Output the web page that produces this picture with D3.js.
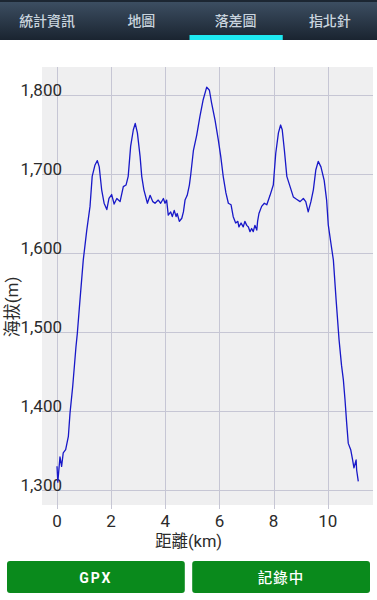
<!DOCTYPE html>
<html lang="zh-Hant">
<head>
<meta charset="UTF-8">
<title>落差圖</title>
<script src="https://d3js.org/d3.v7.min.js"></script>
<style>
  html, body { margin: 0; padding: 0; background: #fff; }
  body { width: 377px; height: 600px; overflow: hidden; font-family: Roboto, "Noto Sans CJK TC", sans-serif; }
</style>
</head>
<body>
<div id="chart"></div>
<script>
// tabs and buttons
const tabs = ["統計資訊", "地圖", "落差圖", "指北針"];
const activeTab = 2;
const buttons = ["GPX", "記錄中"];

// elevation profile
const distanceKm = [0.00, 0.03, 0.11, 0.17, 0.23, 0.32, 0.42, 0.48, 0.58, 0.70, 0.75, 0.85, 0.91, 0.97,
  1.10, 1.22, 1.30, 1.40, 1.49, 1.56, 1.65, 1.74, 1.84, 1.92, 2.02, 2.11, 2.21, 2.33, 2.45, 2.55, 2.63,
  2.72, 2.82, 2.89, 2.97, 3.07, 3.13, 3.21,
  3.34, 3.44, 3.54, 3.62, 3.74, 3.83, 3.93, 3.99, 4.05, 4.11, 4.20, 4.26, 4.33, 4.40, 4.44, 4.52, 4.61,
  4.67, 4.73, 4.81, 4.89,
  4.94, 5.04, 5.16, 5.28, 5.40, 5.53, 5.63, 5.71, 5.84, 5.96, 6.05, 6.14, 6.24,
  6.33, 6.43, 6.51, 6.60, 6.68, 6.72, 6.80, 6.88, 6.94, 7.01, 7.07, 7.13, 7.19, 7.25, 7.31, 7.38, 7.41,
  7.46, 7.56, 7.66, 7.75, 7.81, 7.87,
  7.99, 8.08, 8.18, 8.26, 8.32, 8.40, 8.49, 8.61, 8.73, 8.85, 8.98, 9.10, 9.19, 9.28, 9.38, 9.47, 9.56,
  9.65, 9.75, 9.87, 9.96, 10.02, 10.12, 10.21, 10.31, 10.42, 10.51, 10.58, 10.64, 10.70, 10.76, 10.85,
  10.92, 10.97, 11.05, 11.07, 11.13];
const elevationM = [1330, 1310, 1342, 1330, 1347, 1351, 1368, 1397, 1431, 1481, 1498, 1541, 1566, 1591,
  1629, 1659, 1697, 1711, 1717, 1709, 1680, 1663, 1655, 1669, 1674, 1662, 1669, 1665, 1684, 1686, 1697,
  1735, 1756, 1764, 1752, 1722, 1697, 1680,
  1663, 1673, 1665, 1663, 1667, 1663, 1669, 1663, 1667, 1648, 1652, 1646, 1654, 1646, 1650, 1640, 1644,
  1652, 1667, 1673, 1686,
  1699, 1730, 1749, 1773, 1794, 1810, 1806, 1790, 1768, 1743, 1722, 1697, 1676,
  1663, 1661, 1646, 1638, 1640, 1633, 1638, 1633, 1640, 1635, 1633, 1627, 1631, 1627, 1635, 1629, 1640,
  1650, 1659, 1663, 1661, 1667, 1673,
  1686, 1726, 1752, 1762, 1756, 1730, 1697, 1684, 1671, 1668, 1665, 1669, 1665, 1652, 1665, 1680, 1705,
  1716, 1709, 1692, 1667, 1636, 1612, 1591, 1541, 1490, 1458, 1439, 1414, 1385, 1359, 1351,
  1338, 1328, 1338, 1325, 1311];

const xTicks = [0, 2, 4, 6, 8, 10];
const yTicks = [1300, 1400, 1500, 1600, 1700, 1800];

const width = 377, height = 600;
const plot = { left: 42, right: 373, top: 67, bottom: 505 };

const svg = d3.select("#chart").append("svg")
  .attr("width", width)
  .attr("height", height)
  .attr("viewBox", [0, 0, width, height]);

// tab bar
const defs = svg.append("defs");
const grad = defs.append("linearGradient")
  .attr("id", "tabbar").attr("x1", 0).attr("y1", 0).attr("x2", 0).attr("y2", 1);
grad.append("stop").attr("offset", "0%").attr("stop-color", "#3e5064");
grad.append("stop").attr("offset", "100%").attr("stop-color", "#1a2430");

svg.append("rect").attr("x", 0).attr("y", 0).attr("width", width).attr("height", 40)
  .attr("fill", "url(#tabbar)");
svg.append("rect").attr("x", 0).attr("y", 0).attr("width", width).attr("height", 2)
  .attr("fill", "#1c2632");

const tabX = d3.scaleBand().domain(tabs).range([0, width]);
svg.append("rect")
  .attr("x", tabX(tabs[activeTab]) + 1)
  .attr("y", 35)
  .attr("width", tabX.bandwidth() - 1)
  .attr("height", 5)
  .attr("fill", "#1ee8f0");
svg.append("g")
  .selectAll("text")
  .data(tabs)
  .join("text")
  .attr("x", d => tabX(d) + tabX.bandwidth() / 2)
  .attr("y", 21)
  .attr("dy", "0.35em")
  .attr("text-anchor", "middle")
  .attr("fill", "#c9d4de")
  .style("font-family", "'Noto Sans CJK TC', sans-serif")
  .style("font-size", "14px")
  .style("font-weight", 500)
  .text(d => d);

// scales
const x = d3.scaleLinear()
  .domain([(plot.left - 57) / 27.07, (plot.right - 57) / 27.07])
  .range([plot.left, plot.right]);
const y = d3.scaleLinear()
  .domain([1300 - (plot.bottom - 490) / 0.79, 1300 + (490 - plot.top) / 0.79])
  .range([plot.bottom, plot.top]);

// plot background
svg.append("rect")
  .attr("x", plot.left).attr("y", plot.top)
  .attr("width", plot.right - plot.left).attr("height", plot.bottom - plot.top)
  .attr("fill", "#efeff0");

// grid
svg.append("g")
  .attr("stroke", "#c6c6d4")
  .attr("stroke-width", 1)
  .selectAll("line.v")
  .data(xTicks)
  .join("line")
  .attr("x1", d => Math.round(x(d)) + 0.5).attr("x2", d => Math.round(x(d)) + 0.5)
  .attr("y1", plot.top).attr("y2", plot.bottom + 4);
svg.append("g")
  .attr("stroke", "#c6c6d4")
  .attr("stroke-width", 1)
  .selectAll("line.h")
  .data(yTicks)
  .join("line")
  .attr("x1", plot.left).attr("x2", plot.right)
  .attr("y1", d => Math.round(y(d)) + 0.5).attr("y2", d => Math.round(y(d)) + 0.5);

// y tick labels (sit on gridline, overlapping plot edge)
const fmt = d3.format(",");
svg.append("g")
  .selectAll("text")
  .data(yTicks)
  .join("text")
  .attr("x", 62)
  .attr("y", d => y(d) + 1)
  .attr("text-anchor", "end")
  .attr("fill", "#2b2b2b")
  .style("font-size", "17px")
  .text(d => fmt(d));

// x tick labels
svg.append("g")
  .selectAll("text")
  .data(xTicks)
  .join("text")
  .attr("x", d => x(d))
  .attr("y", 527)
  .attr("text-anchor", "middle")
  .attr("fill", "#2b2b2b")
  .style("font-size", "17px")
  .text(d => d);

// axis titles
svg.append("text")
  .attr("x", width / 2)
  .attr("y", 547)
  .attr("text-anchor", "middle")
  .attr("fill", "#2b2b2b")
  .style("font-size", "16.5px")
  .text("距離(km)");
svg.append("text")
  .attr("transform", "translate(18,307) rotate(-90)")
  .attr("text-anchor", "middle")
  .attr("fill", "#2b2b2b")
  .style("font-size", "17px")
  .text("海拔(m)");

// elevation line
const pts = distanceKm.map((d, i) => [d, elevationM[i]]);
svg.append("path")
  .datum(pts)
  .attr("fill", "none")
  .attr("stroke", "#1818c8")
  .attr("stroke-width", 1.3)
  .attr("stroke-linejoin", "round")
  .attr("d", d3.line().x(d => x(d[0])).y(d => y(d[1])));

// buttons
const btnX = d3.scaleBand().domain(buttons).range([7, 370]).paddingInner(0.04);
const btn = svg.append("g")
  .selectAll("g")
  .data(buttons)
  .join("g")
  .attr("transform", d => `translate(${btnX(d)},561)`);
btn.append("rect")
  .attr("width", btnX.bandwidth())
  .attr("height", 32)
  .attr("rx", 3)
  .attr("fill", "#0a8a1c");
btn.append("text")
  .attr("x", btnX.bandwidth() / 2)
  .attr("y", 17)
  .attr("dy", "0.35em")
  .attr("text-anchor", "middle")
  .attr("fill", "#fff")
  .style("font-weight", d => d === "GPX" ? 700 : 500)
  .style("font-size", d => d === "GPX" ? "14px" : "14.5px")
  .style("letter-spacing", d => d === "GPX" ? "2px" : "1px")
  .text(d => d);
</script>
</body>
</html>
